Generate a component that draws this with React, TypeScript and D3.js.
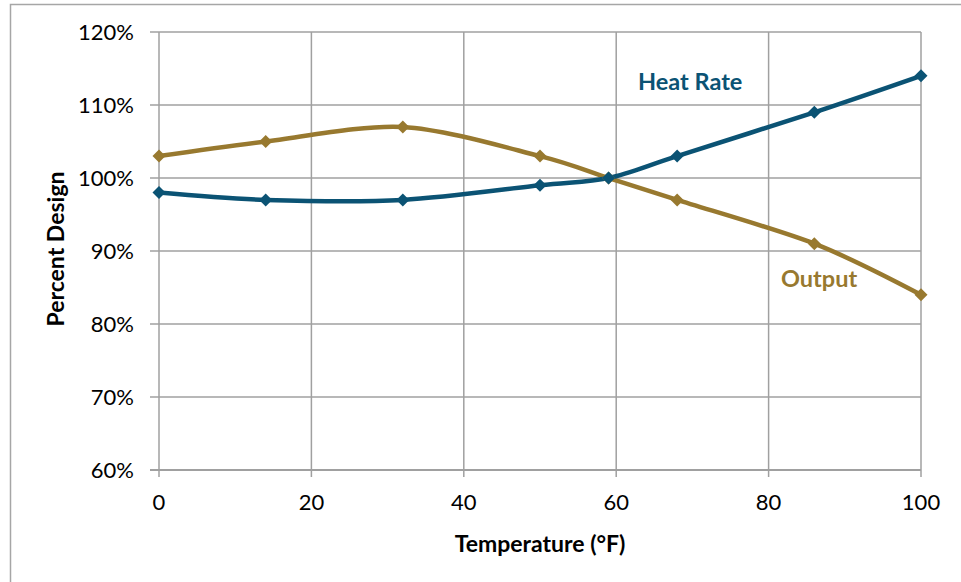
import React from "react";
import * as d3 from "d3";

const temperatures = [0, 14, 32, 50, 59, 68, 86, 100];
const heatRate = [98, 97, 97, 99, 100, 103, 109, 114];
const output = [103, 105, 107, 103, 100, 97, 91, 84];
const xTicks = [0, 20, 40, 60, 80, 100];
const yTicks = [60, 70, 80, 90, 100, 110, 120];

const W = 961;
const H = 582;
const FONT = "Lato, 'Open Sans', sans-serif";
const HR_COLOR = "#0B5374";
const OUT_COLOR = "#98792F";
const GRID = "#a0a0a0";

export default function App() {
  const x = d3.scaleLinear().domain([0, 100]).range([159, 921]);
  const y = d3.scaleLinear().domain([60, 120]).range([470, 32]);
  const line = d3
    .line<[number, number]>()
    .x((d) => x(d[0]))
    .y((d) => y(d[1]))
    .curve(d3.curveCardinal.tension(0.1));
  const hrPts = temperatures.map((t, i) => [t, heatRate[i]] as [number, number]);
  const outPts = temperatures.map((t, i) => [t, output[i]] as [number, number]);
  const diamond = (cx: number, cy: number, s = 6.5) =>
    `M${cx},${cy - s}L${cx + s},${cy}L${cx},${cy + s}L${cx - s},${cy}Z`;

  return (
    <svg
      width={W}
      height={H}
      style={{ position: "absolute", left: 0, top: 0, background: "#fff" }}
    >
      <rect x={10.5} y={4.5} width={W} height={H} fill="#fff" stroke="#a6a6a6" strokeWidth={1.5} />
      {yTicks.map((t) => (
        <g key={"y" + t}>
          <line x1={150} x2={921} y1={y(t)} y2={y(t)} stroke={GRID} strokeWidth={t === 60 ? 2.2 : 1.5} />
          <text
            x={134}
            y={y(t)}
            dy="0.36em"
            textAnchor="end"
            fontFamily={FONT}
            fontSize={22}
            fill="#000"
          >
            {t}%
          </text>
        </g>
      ))}
      {xTicks.map((t) => (
        <g key={"x" + t}>
          <line x1={x(t)} x2={x(t)} y1={32} y2={477} stroke={GRID} strokeWidth={1.5} />
          <text
            x={x(t)}
            y={502}
            dy="0.36em"
            textAnchor="middle"
            fontFamily={FONT}
            fontSize={22}
            fill="#000"
          >
            {t}
          </text>
        </g>
      ))}
      <text
        x={540}
        y={544}
        dy="0.36em"
        textAnchor="middle"
        fontFamily={FONT}
        fontWeight="bold"
        fontSize={23}
      >
        Temperature (°F)
      </text>
      <text
        transform="translate(56,249) rotate(-90)"
        dy="0.36em"
        textAnchor="middle"
        fontFamily={FONT}
        fontWeight="bold"
        fontSize={23}
      >
        Percent Design
      </text>
      <path d={line(outPts) || ""} fill="none" stroke={OUT_COLOR} strokeWidth={4.5} />
      <path d={line(hrPts) || ""} fill="none" stroke={HR_COLOR} strokeWidth={4.5} />
      {outPts.map((p, i) => (
        <path key={"o" + i} d={diamond(x(p[0]), y(p[1]))} fill={OUT_COLOR} />
      ))}
      {hrPts.map((p, i) => (
        <path key={"h" + i} d={diamond(x(p[0]), y(p[1]))} fill={HR_COLOR} />
      ))}
      <text x={638} y={82} dy="0.36em" fontFamily={FONT} fontWeight="bold" fontSize={23.5} fill={HR_COLOR}>
        Heat Rate
      </text>
      <text x={781} y={279} dy="0.36em" fontFamily={FONT} fontWeight="bold" fontSize={23.5} fill={OUT_COLOR}>
        Output
      </text>
    </svg>
  );
}
